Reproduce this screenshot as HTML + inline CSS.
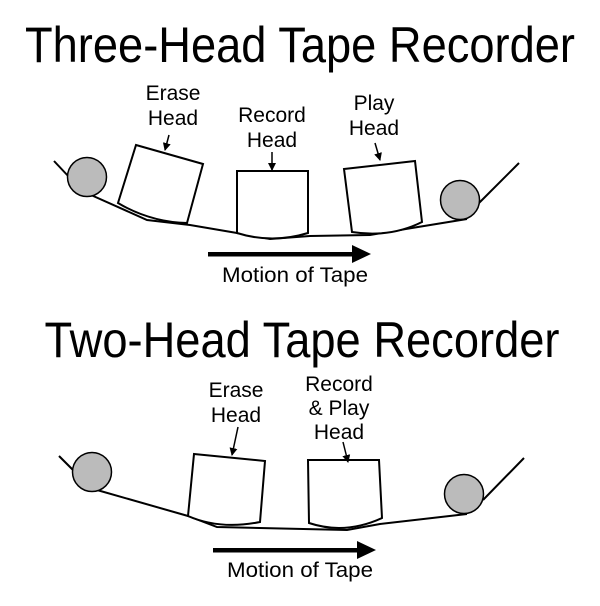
<!DOCTYPE html>
<html><head><meta charset="utf-8"><style>html,body{margin:0;padding:0;background:#fff}svg{display:block}</style></head>
<body>
<svg width="600" height="606" viewBox="0 0 600 606" xmlns="http://www.w3.org/2000/svg" font-family="Liberation Sans, Arial, sans-serif">
<defs><marker id="a" markerWidth="8" markerHeight="8" refX="7" refY="4" orient="auto" markerUnits="userSpaceOnUse"><path d="M0,0 L8,4 L0,8 z" fill="#000"/></marker></defs>
<g fill="#000">
<text x="300" y="62" font-size="50" text-anchor="middle" textLength="550" lengthAdjust="spacingAndGlyphs">Three-Head Tape Recorder</text>
<text x="302" y="357" font-size="50" text-anchor="middle" textLength="515" lengthAdjust="spacingAndGlyphs">Two-Head Tape Recorder</text>
<g font-size="21" text-anchor="middle">
<text x="173" y="100">Erase</text><text x="173" y="125">Head</text>
<text x="272" y="122">Record</text><text x="272" y="147">Head</text>
<text x="374" y="110">Play</text><text x="374" y="135">Head</text>
<text x="295" y="282" textLength="146" lengthAdjust="spacingAndGlyphs">Motion of Tape</text>
<text x="236" y="397">Erase</text><text x="236" y="422">Head</text>
<text x="339" y="391">Record</text><text x="339" y="415">&amp; Play</text><text x="339" y="439">Head</text>
<text x="300" y="577" textLength="146" lengthAdjust="spacingAndGlyphs">Motion of Tape</text>
</g></g>
<g fill="none" stroke="#000" stroke-width="2">
<line x1="54" y1="161" x2="70" y2="178"/>
<polyline points="91,195 147,220 190,225 237,233 270,239 310,236 370,235 418,227 467,219"/>
<line x1="478" y1="204" x2="519" y2="163"/>
<path d="M136,145 L203,164 L187,223 Q150,222 118,203 Z" fill="#fff"/>
<path d="M237,171 L308,171 L308,233 Q272,244 237,233 Z" fill="#fff"/>
<path d="M344,169 L415,161 L422,222 Q390,238 352,232 Z" fill="#fff"/>
<line x1="169" y1="135" x2="165" y2="150" marker-end="url(#a)" stroke-width="1.5"/>
<line x1="272" y1="152" x2="272" y2="170" marker-end="url(#a)" stroke-width="1.5"/>
<line x1="375" y1="143" x2="380" y2="160" marker-end="url(#a)" stroke-width="1.5"/>
<line x1="59" y1="456" x2="75" y2="472"/>
<polyline points="97,490 188,516 217,527 347,530 380,524 467,514"/>
<line x1="483" y1="500" x2="524" y2="458"/>
<path d="M194,454 L265,461 L260,522 Q220,530 188,516 Z" fill="#fff"/>
<path d="M308,460 L379,460 L382,518 Q345,535 309,523 Z" fill="#fff"/>
<line x1="238" y1="427" x2="232" y2="455" marker-end="url(#a)" stroke-width="1.5"/>
<line x1="343" y1="442" x2="348" y2="462" marker-end="url(#a)" stroke-width="1.5"/>
</g>
<g fill="#bbb" stroke="#000" stroke-width="1.5">
<circle cx="87" cy="177" r="19.5"/><circle cx="460" cy="200" r="19.5"/>
<circle cx="92" cy="472" r="19.5"/><circle cx="464" cy="494" r="19.5"/>
</g>
<g fill="#000">
<rect x="208" y="252" width="147" height="4.5"/><path d="M352,245 L371,254 L352,263 Z"/>
<rect x="213" y="548" width="147" height="4.5"/><path d="M357,541 L376,550 L357,559 Z"/>
</g>
</svg>
</body></html>
